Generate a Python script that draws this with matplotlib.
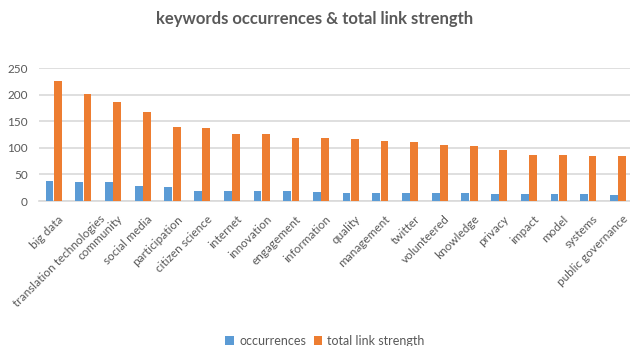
import numpy as np
import matplotlib as mpl
mpl.use('Agg')
import matplotlib.pyplot as plt
import matplotlib.transforms as mtrans

keywords = ["big data", "translation technologies", "community", "social media",
            "participation", "citizen science", "internet", "innovation",
            "engagement", "information", "quality", "management", "twitter",
            "volunteered", "knowledge", "privacy", "impact", "model", "systems",
            "public governance"]
occurrences = [38, 35, 35, 28, 27, 19, 19, 19, 19, 17, 16, 16, 16, 16, 16, 13, 13, 13, 13, 12]
link_strength = [227, 202, 187, 168, 140, 138, 126, 126, 119, 119, 116, 114, 111, 106, 103, 97, 87, 86, 84, 84]

blue = "#5B9BD5"
orange = "#ED7D31"
grey = "#595959"

plt.rcParams['font.family'] = ['Lato', 'DejaVu Sans']

fig = plt.figure(figsize=(6.3, 3.46), dpi=100)
ax = fig.add_axes([39 / 630, 0.419, 594 / 630, 0.3835])

x = np.arange(len(keywords))
w = 0.26
ax.bar(x - 0.145, occurrences, w, color=blue, label="occurrences", zorder=3)
ax.bar(x + 0.135, link_strength, w, color=orange, label="total link strength", zorder=3)

ax.set_xlim(-0.5, len(keywords) - 0.5)
ax.set_ylim(0, 250)
ax.set_yticks(range(0, 251, 50))
ax.yaxis.grid(True, color="#d9d9d9", linewidth=1.2, zorder=0)
for s in ["top", "right", "left"]:
    ax.spines[s].set_visible(False)
ax.spines["bottom"].set_color("#d9d9d9")
ax.spines["bottom"].set_linewidth(1.2)
ax.tick_params(axis="both", length=0, colors=grey, labelsize=8.5)
ax.tick_params(axis="y", pad=8)
ax.tick_params(axis="x", pad=9)
ax.set_xticks(x)
ax.set_xticklabels(keywords, rotation=45, ha="right", rotation_mode="anchor")

# nudge labels right like the original; the long one more so it stays inside
for i, lab in enumerate(ax.get_xticklabels()):
    dx = 16 if i == 1 else 4
    lab.set_transform(lab.get_transform() + mtrans.ScaledTranslation(dx / 100, 0, fig.dpi_scale_trans))

fig.text(0.5, 0.945, "keywords occurrences & total link strength", ha="center",
         va="center", fontsize=12, color=grey, fontweight="bold")

fig.legend(loc="lower center", bbox_to_anchor=(0.516, -0.035), ncol=2, frameon=False,
           fontsize=9, labelcolor=grey, handlelength=0.7, handleheight=0.7,
           handletextpad=0.4, columnspacing=0.6)

fig.savefig("out.png", dpi=100)
